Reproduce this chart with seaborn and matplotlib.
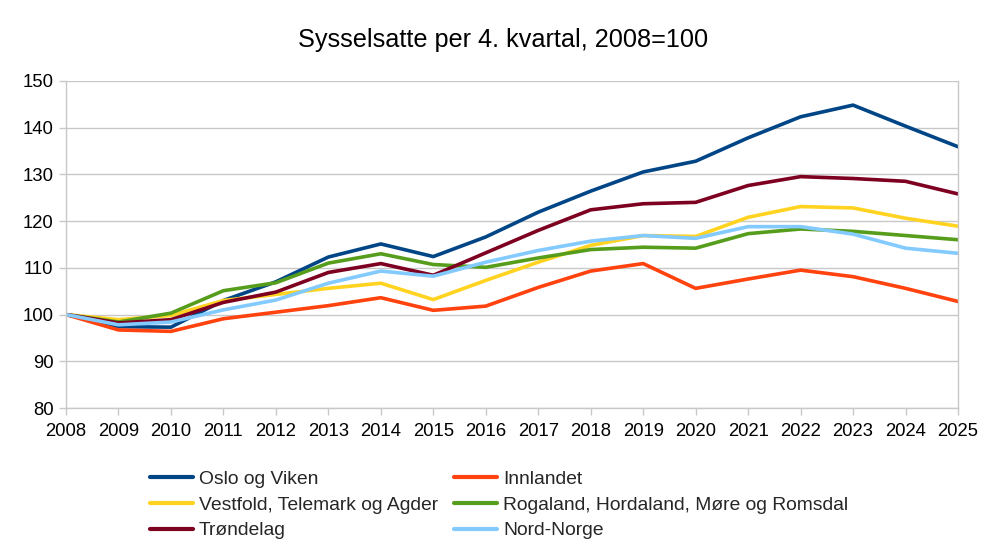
import matplotlib
matplotlib.use("Agg")
import matplotlib.pyplot as plt
import seaborn as sns
import pandas as pd

years = list(range(2008, 2026))
oslo_viken = [100, 97.4, 97.3, 103.0, 107.0, 112.3, 115.1, 112.4, 116.6, 121.9, 126.4, 130.5, 132.8, 137.8, 142.3, 144.8, 140.3, 135.9]
innlandet = [100, 96.7, 96.4, 99.1, 100.5, 101.9, 103.6, 100.9, 101.8, 105.8, 109.3, 110.9, 105.6, 107.6, 109.5, 108.1, 105.6, 102.8]
vestfold = [100, 98.9, 99.8, 103.0, 104.3, 105.6, 106.7, 103.2, 107.3, 111.2, 114.8, 116.9, 116.7, 120.8, 123.1, 122.8, 120.6, 118.9]
rogaland = [100, 98.4, 100.3, 105.1, 106.8, 111.0, 113.0, 110.7, 110.1, 112.1, 113.9, 114.4, 114.2, 117.3, 118.3, 117.8, 116.9, 116.0]
trondelag = [100, 98.2, 98.9, 102.6, 104.8, 109.0, 110.9, 108.4, 113.2, 118.0, 122.4, 123.7, 124.0, 127.6, 129.5, 129.1, 128.5, 125.8]
nord_norge = [100, 97.8, 98.4, 101.0, 103.1, 106.7, 109.3, 108.2, 111.2, 113.7, 115.7, 116.9, 116.3, 118.8, 118.8, 117.2, 114.2, 113.1]

series_names = ["Oslo og Viken", "Innlandet", "Vestfold, Telemark og Agder",
                "Rogaland, Hordaland, Møre og Romsdal", "Trøndelag", "Nord-Norge"]
series_values = [oslo_viken, innlandet, vestfold, rogaland, trondelag, nord_norge]
colors = ["#004586", "#ff420e", "#ffd320", "#579d1c", "#7e0021", "#83caff"]
y_ticks = [80, 90, 100, 110, 120, 130, 140, 150]
title = "Sysselsatte per 4. kvartal, 2008=100"

rows = []
for name, vals in zip(series_names, series_values):
    for yr, v in zip(years, vals):
        rows.append({"År": yr, "Verdi": v, "Region": name})
df = pd.DataFrame(rows)

sns.set_theme(style="white")
plt.rcParams["font.family"] = ["Liberation Sans", "DejaVu Sans"]

fig = plt.figure(figsize=(10, 5.46), dpi=100)
ax = fig.add_axes([0.066, 0.2527, 0.892, 0.5993])

sns.lineplot(data=df, x="År", y="Verdi", hue="Region", hue_order=series_names,
             palette=colors, linewidth=2.6, ax=ax, legend=True)

ax.set_xlim(2008, 2025)
ax.set_ylim(80, 150)
ax.set_xticks(years)
ax.set_xticklabels([str(y) for y in years])
ax.set_yticks(y_ticks)
ax.grid(True, axis="y", color="#c8c8c8", linewidth=1.0)
ax.grid(False, axis="x")
ax.set_axisbelow(True)
for s in ["top", "right", "left", "bottom"]:
    ax.spines[s].set_color("#c8c8c8")
    ax.spines[s].set_linewidth(1.0)
ax.spines["top"].set_visible(False)
ax.tick_params(axis="both", which="both", direction="out", length=5, width=1,
               color="#c8c8c8", labelsize=13.3, labelcolor="#000000", pad=4,
               bottom=True, left=True)
ax.tick_params(axis="x", pad=6)
ax.set_xlabel("")
ax.set_ylabel("")

fig.text(0.503, 0.927, title, ha="center", va="center", fontsize=18.2, color="#000000")

handles, labels = ax.get_legend_handles_labels()
ax.get_legend().remove()
order = [0, 2, 4, 1, 3, 5]
leg = fig.legend([handles[i] for i in order], [labels[i] for i in order],
                 ncol=2, loc="upper left", bbox_to_anchor=(0.150, 0.138),
                 frameon=False, fontsize=13.9, handlelength=2.23,
                 handletextpad=0.31, columnspacing=0.83, labelspacing=0.42,
                 borderaxespad=0, borderpad=0)
for line in leg.get_lines():
    line.set_linewidth(3)

fig.savefig("out.png", dpi=100)
